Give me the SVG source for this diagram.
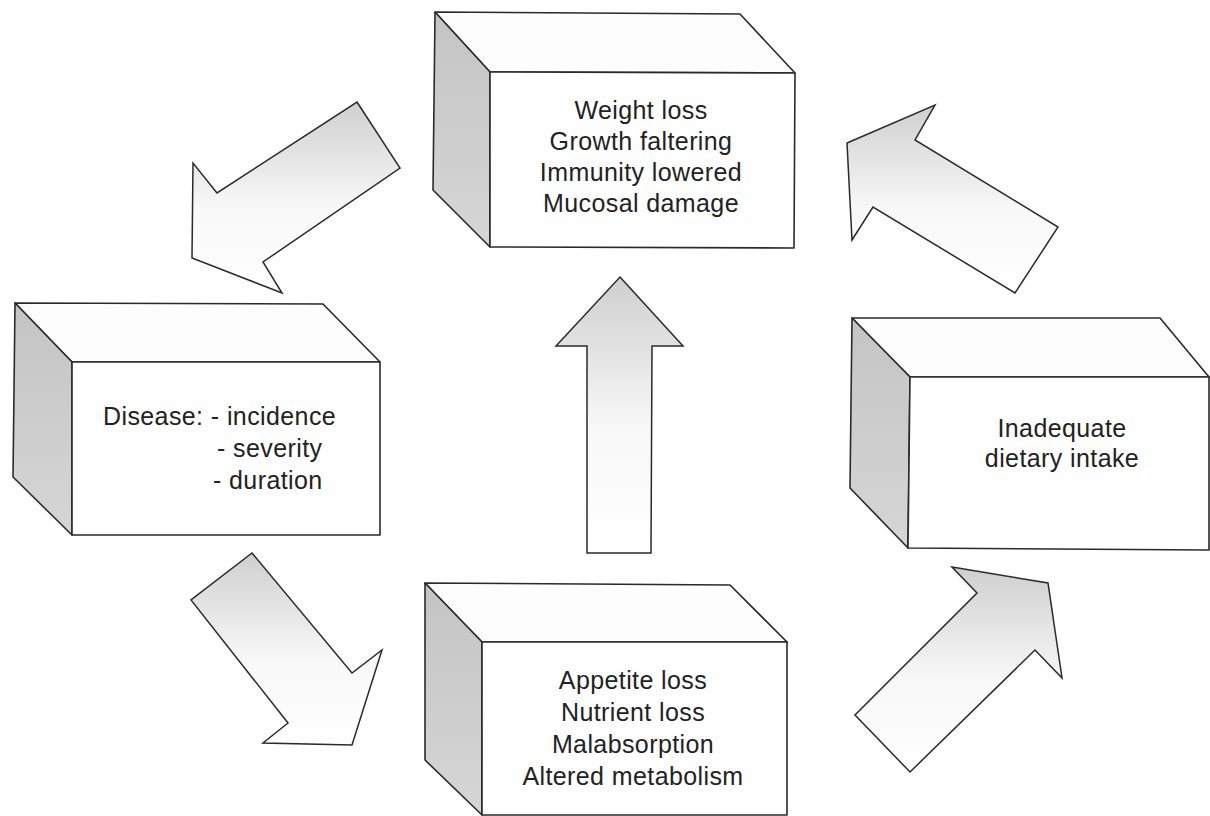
<svg xmlns="http://www.w3.org/2000/svg" width="1210" height="816" viewBox="0 0 1210 816">
<defs>
<linearGradient id="arrowFill" x1="0" y1="0" x2="0" y2="1">
<stop offset="0" stop-color="#cfcfcf"/>
<stop offset="0.2" stop-color="#dedede"/>
<stop offset="0.55" stop-color="#f8f8f8"/>
<stop offset="1" stop-color="#ffffff"/>
</linearGradient>
<linearGradient id="sideFill" x1="0" y1="0" x2="0" y2="1">
<stop offset="0" stop-color="#c4c4c4"/>
<stop offset="1" stop-color="#d6d6d6"/>
</linearGradient>
<style>
.edge{stroke:#2a2a2a;stroke-width:1.6;stroke-linejoin:round}
.front{fill:#ffffff}
.top{fill:#fdfdfd}
.side{fill:url(#sideFill)}
.arrow{fill:url(#arrowFill);stroke:#2a2a2a;stroke-width:1.5;stroke-linejoin:miter}
.lbl{font-family:"Liberation Sans",Arial,sans-serif;font-size:25px;fill:#222;letter-spacing:0.4px}
.c{text-anchor:middle}
</style>
</defs>
<rect width="1210" height="816" fill="#ffffff"/>

<g id="connectors">
<polygon id="arrow-top-to-disease" class="arrow" points="357,102 400,168 263,262 282,293 192,258 193,163 217,193"/>
<polygon id="arrow-intake-to-top" class="arrow" points="847,143 935,105 915,140 1058,227 1015,293 873,207 852,240"/>
<polygon id="arrow-disease-to-appetite" class="arrow" points="252,553 352,673 382,650 352,745 263,743 288,723 191,600"/>
<polygon id="arrow-appetite-to-intake" class="arrow" points="952,567 1048,583 1062,678 1035,650 910,772 855,715 977,593"/>
<polygon id="arrow-appetite-to-top" class="arrow" points="620,277 683,346 652,346 651,553 587,553 587,346 556,346"/>
</g>

<g id="node-weight-loss">
<polygon class="top edge" points="435,12 740,14 795,73 490,72"/>
<polygon class="side edge" points="435,12 490,72 490,247 433,190"/>
<polygon class="front edge" points="490,72 795,73 794,248 490,247"/>
<text class="lbl c" x="641" y="119">Weight loss</text>
<text class="lbl c" x="641" y="150">Growth faltering</text>
<text class="lbl c" x="641" y="181">Immunity lowered</text>
<text class="lbl c" x="641" y="212">Mucosal damage</text>
</g>

<g id="node-disease">
<polygon class="top edge" points="15,303 323,304 380,362 72,362"/>
<polygon class="side edge" points="15,303 72,362 72,535 13,477"/>
<polygon class="front edge" points="72,362 380,362 380,535 72,535"/>
<text class="lbl" x="103" y="425">Disease: - incidence</text>
<text class="lbl" x="217" y="457">- severity</text>
<text class="lbl" x="213" y="489">- duration</text>
</g>

<g id="node-intake">
<polygon class="top edge" points="852,318 1160,318 1209,377 910,377"/>
<polygon class="side edge" points="852,318 910,377 908,548 850,488"/>
<polygon class="front edge" points="910,377 1209,377 1209,550 908,548"/>
<text class="lbl c" x="1062" y="437">Inadequate</text>
<text class="lbl c" x="1062" y="467">dietary intake</text>
</g>

<g id="node-appetite">
<polygon class="top edge" points="425,583 730,585 787,642 482,642"/>
<polygon class="side edge" points="425,583 482,642 482,815 425,760"/>
<polygon class="front edge" points="482,642 787,642 787,815 482,815"/>
<text class="lbl c" x="633" y="689">Appetite loss</text>
<text class="lbl c" x="633" y="721">Nutrient loss</text>
<text class="lbl c" x="633" y="753">Malabsorption</text>
<text class="lbl c" x="633" y="785">Altered metabolism</text>
</g>
</svg>
